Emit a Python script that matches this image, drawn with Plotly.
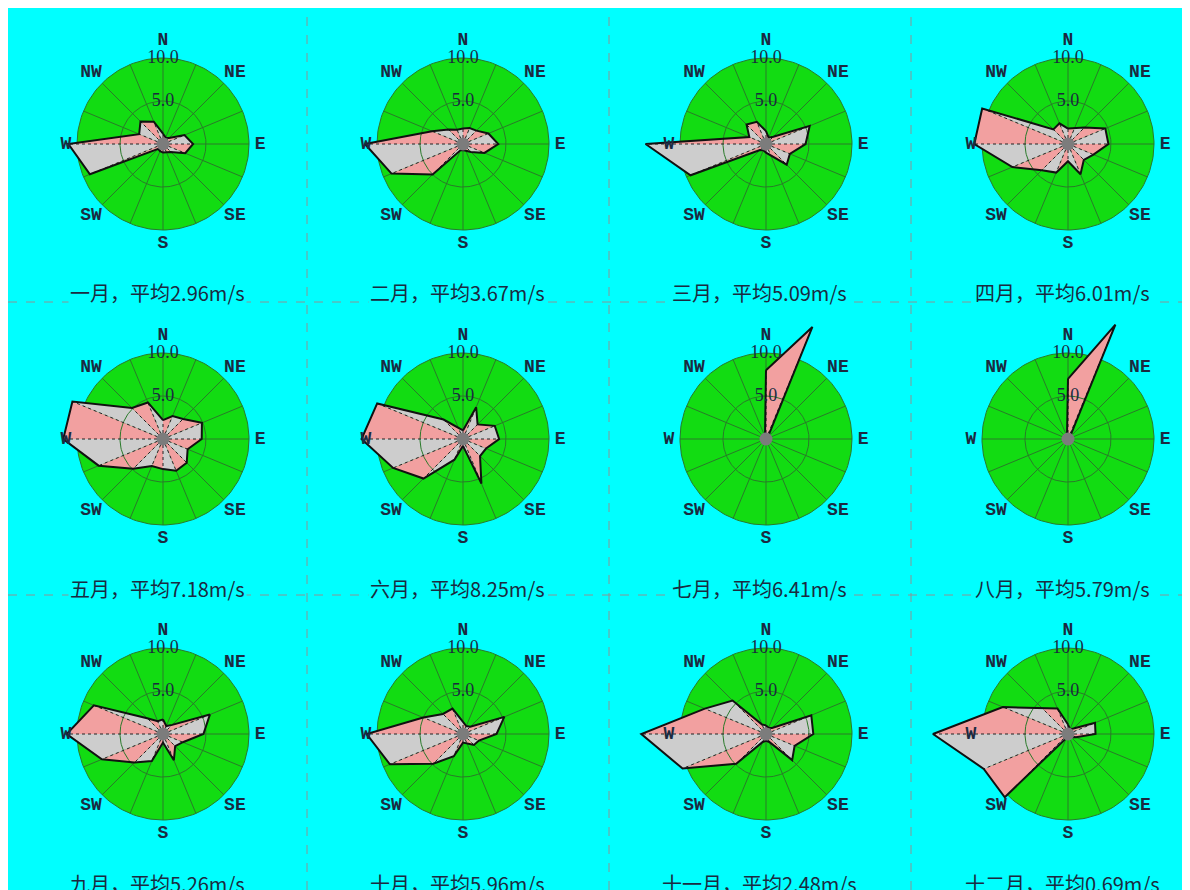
import math
import plotly.graph_objects as go

# 16 compass directions, clockwise from north
DIRS = ["N", "NNE", "NE", "ENE", "E", "ESE", "SE", "SSE",
        "S", "SSW", "SW", "WSW", "W", "WNW", "NW", "NNW"]
DIR_ANGLES = [i * 22.5 for i in range(16)]
COMPASS_LABELS = ["N", "NE", "E", "SE", "S", "SW", "W", "NW"]
COMPASS_ANGLES = [0, 45, 90, 135, 180, 225, 270, 315]
RADIAL_TICKS = [5.0, 10.0]

MONTHS = ["一月", "二月", "三月", "四月", "五月", "六月",
          "七月", "八月", "九月", "十月", "十一月", "十二月"]
MEAN_SPEED = ["2.96", "3.67", "5.09", "6.01", "7.18", "8.25",
              "6.41", "5.79", "5.26", "5.96", "2.48", "0.69"]

# wind speed per direction (m/s), order follows DIRS
jan = [1.2, 0.8, 1.0, 2.7, 3.5, 2.8, 1.3, 1.0, 1.0, 0.9, 0.8, 9.2, 11.0, 3.0, 3.7, 2.8]
feb = [1.8, 2.0, 2.2, 3.2, 4.1, 2.7, 1.3, 0.8, 0.7, 0.8, 5.0, 9.0, 11.4, 3.9, 2.4, 1.8]
mar = [1.5, 0.8, 1.2, 5.5, 4.6, 3.0, 3.4, 1.5, 1.0, 0.8, 1.0, 9.5, 14.0, 2.1, 3.2, 2.8]
apr = [1.8, 2.0, 2.7, 4.7, 4.7, 3.2, 2.6, 3.8, 2.0, 3.6, 4.3, 7.0, 10.9, 10.8, 2.4, 2.6]
may = [2.2, 2.9, 3.3, 4.9, 4.5, 3.1, 3.9, 4.0, 3.5, 3.4, 4.9, 8.1, 11.6, 11.4, 5.1, 4.6]
jun = [1.0, 4.0, 2.4, 4.0, 4.2, 2.9, 2.8, 5.6, 0.8, 2.6, 6.5, 8.8, 11.8, 10.8, 3.2, 1.3]
jul = [8.0, 14.1, 0.3, 0.3, 0.3, 0.3, 0.3, 0.3, 0.3, 0.3, 0.3, 0.3, 0.3, 0.3, 0.3, 0.3]
aug = [7.0, 14.4, 0.3, 0.3, 0.3, 0.3, 0.3, 0.3, 0.3, 0.3, 0.3, 0.3, 0.3, 0.3, 0.3, 0.3]
sep = [1.7, 1.0, 1.5, 5.9, 4.7, 2.5, 2.0, 3.3, 1.0, 3.4, 4.7, 7.7, 11.2, 8.7, 2.6, 1.6]
oct_ = [1.4, 1.0, 1.2, 5.2, 3.9, 2.0, 1.8, 1.2, 1.0, 2.8, 4.9, 9.2, 11.2, 5.0, 3.3, 3.2]
nov = [1.0, 0.8, 1.0, 5.7, 5.5, 3.6, 4.3, 1.0, 0.8, 1.0, 4.9, 10.5, 14.5, 7.7, 5.5, 1.2]
dec = [1.1, 0.6, 0.9, 3.4, 3.2, 1.0, 0.5, 0.5, 0.5, 0.5, 10.4, 10.6, 15.7, 8.2, 4.2, 3.2]

MONTH_VALUES = [jan, feb, mar, apr, may, jun, jul, aug, sep, oct_, nov, dec]

# page geometry (pixels)
W, H = 1190, 890
PX_PER_UNIT = 8.6
COL_X = [163, 463, 766, 1068]
ROW_Y = [144, 439, 734]
CELL_X = [(8, 307), (307, 609), (609, 911), (911, 1182)]
CELL_Y = [(8, 302), (302, 595), (595, 890)]
TITLE_DY = 149
V_DIVIDERS = [307, 609, 911]
H_DIVIDERS = [302, 595]

BG = "#00FFFF"
DISC = "#12DC12"
GRID = "#2a7a2a"
PINK = "#F2A0A0"
GREY = "#CDCDCD"
INK = "#1b2a40"


def polar_xy(rs, thetas):
    """Compass bearing (deg, clockwise from N) + radius -> x/y in m/s units."""
    xs, ys = [], []
    for r, t in zip(rs, thetas):
        if r is None or t is None:
            xs.append(None)
            ys.append(None)
            continue
        a = math.radians(t)
        xs.append(r * math.sin(a))
        ys.append(r * math.cos(a))
    return xs, ys


def label_radius(t):
    s = math.sin(math.radians(t))
    c = math.cos(math.radians(t))
    r = 12.0 - 0.7 * s ** 4
    if c < -0.99:  # the south label sits a little closer
        r -= 0.4
    return r


ring = list(range(0, 361, 2))
fig = go.Figure()
layout_axes = {}
annotations = []

for i, vals in enumerate(MONTH_VALUES):
    row, col = divmod(i, 4)
    cx, cy = COL_X[col], ROW_Y[row]
    (x0, x1), (y0, y1) = CELL_X[col], CELL_Y[row]
    n = "" if i == 0 else str(i + 1)
    xa, ya = "x" + n, "y" + n

    def add(**kw):
        fig.add_trace(go.Scatter(xaxis=xa, yaxis=ya, hoverinfo="skip",
                                 showlegend=False, **kw))

    # green disc with its grid
    dx, dy = polar_xy([RADIAL_TICKS[-1]] * len(ring), ring)
    add(x=dx, y=dy, mode="lines", fill="toself", fillcolor=DISC,
        line=dict(width=1, color=GRID))
    sr, st = [], []
    for t in DIR_ANGLES:
        sr += [0, RADIAL_TICKS[-1], None]
        st += [t, t, None]
    gx, gy = polar_xy(sr, st)
    add(x=gx, y=gy, mode="lines", line=dict(width=1, color=GRID))

    # alternating triangles between neighbouring directions
    for k in range(16):
        k1 = (k + 1) % 16
        colr = PINK if k % 2 == 0 else GREY
        tx, ty = polar_xy([0, vals[k], vals[k1], 0],
                          [0, DIR_ANGLES[k], DIR_ANGLES[k] + 22.5, 0])
        add(x=tx, y=ty, mode="lines", fill="toself", fillcolor=colr,
            line=dict(width=0, color=colr))

    # 5 m/s ring drawn over the rose
    rx, ry = polar_xy([RADIAL_TICKS[0]] * len(ring), ring)
    add(x=rx, y=ry, mode="lines", line=dict(width=1, color=GRID))

    # dotted spokes to each vertex
    sr, st = [], []
    for k in range(16):
        sr += [0, vals[k], None]
        st += [DIR_ANGLES[k], DIR_ANGLES[k], None]
    px, py = polar_xy(sr, st)
    add(x=px, y=py, mode="lines", connectgaps=False,
        line=dict(width=1, color="#222222", dash="dot"))

    # outline of the rose
    ox, oy = polar_xy(vals + [vals[0]], DIR_ANGLES + [360])
    add(x=ox, y=oy, mode="lines", line=dict(width=2, color="#111111"))

    # hub
    add(x=[0], y=[0], mode="markers", marker=dict(size=13, color="#7c7c7c"))

    # compass labels
    lx, ly = polar_xy([label_radius(t) for t in COMPASS_ANGLES], COMPASS_ANGLES)
    add(x=lx, y=ly, mode="text", text=COMPASS_LABELS,
        textfont=dict(family="Liberation Mono", size=18, color=INK, weight="bold"))

    # radial scale labels on the north spoke
    tx, ty = polar_xy(RADIAL_TICKS, [0, 0])
    add(x=tx, y=ty, mode="text", text=[f"{v:.1f}" for v in RADIAL_TICKS],
        textfont=dict(family="Liberation Serif", size=18, color=INK))

    layout_axes["xaxis" + n] = dict(
        domain=[x0 / W, x1 / W],
        range=[(x0 - cx) / PX_PER_UNIT, (x1 - cx) / PX_PER_UNIT],
        visible=False, fixedrange=True, anchor=ya)
    layout_axes["yaxis" + n] = dict(
        domain=[1 - y1 / H, 1 - y0 / H],
        range=[(cy - y1) / PX_PER_UNIT, (cy - y0) / PX_PER_UNIT],
        visible=False, fixedrange=True, anchor=xa)

    annotations.append(dict(
        x=(cx - 6) / W, y=1 - (cy + TITLE_DY) / H, xref="paper", yref="paper",
        text=f"{MONTHS[i]}，平均{MEAN_SPEED[i]}m/s", showarrow=False,
        font=dict(family="Noto Sans CJK SC", size=20, color=INK),
        bgcolor=BG, borderpad=1, xanchor="center", yanchor="middle"))

shapes = [dict(type="rect", xref="paper", yref="paper",
               x0=8 / W, x1=(W - 8) / W, y0=0, y1=1 - 8 / H,
               fillcolor=BG, line=dict(width=0), layer="below")]
for xv in V_DIVIDERS:
    shapes.append(dict(type="line", xref="paper", yref="paper",
                       x0=xv / W, x1=xv / W, y0=0, y1=1 - 8 / H,
                       line=dict(color="#8a9494", width=1, dash="dash"), layer="below"))
for yv in H_DIVIDERS:
    shapes.append(dict(type="line", xref="paper", yref="paper",
                       x0=8 / W, x1=(W - 8) / W, y0=1 - yv / H, y1=1 - yv / H,
                       line=dict(color="#8a9494", width=1, dash="dash"), layer="below"))

fig.update_layout(
    width=W, height=H, margin=dict(l=0, r=0, t=0, b=0),
    paper_bgcolor="white", plot_bgcolor="rgba(0,0,0,0)",
    showlegend=False, shapes=shapes, annotations=annotations,
    **layout_axes)

fig.write_html("out.html")
